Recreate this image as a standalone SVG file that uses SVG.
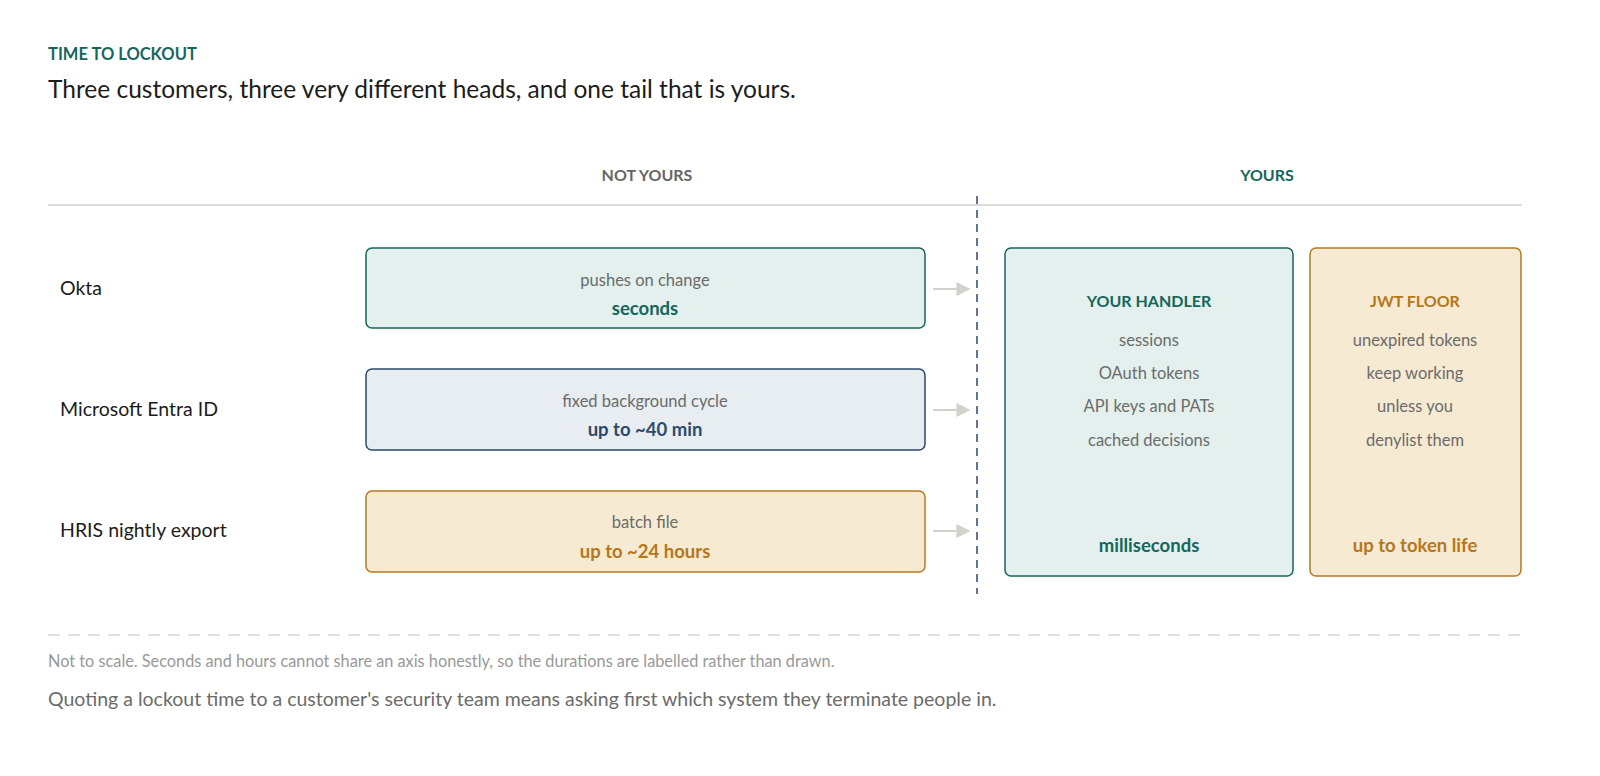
<svg xmlns="http://www.w3.org/2000/svg" width="1600" height="776" viewBox="0 0 1600 776">
<defs>
<style>
text{font-family:Lato,"Open Sans","Liberation Sans",sans-serif}
.lab{font-size:19.5px;fill:#1c1c1c}
.sub{font-size:16.5px;fill:#6b6b6b;text-anchor:middle}
.big{font-size:18.5px;font-weight:bold;text-anchor:middle}
.hd{font-size:16px;font-weight:bold;text-anchor:middle}
.teal{fill:#e3f0ed;stroke:#15665d;stroke-width:1.5}
.blue{fill:#e8edf2;stroke:#2d4a6c;stroke-width:1.5}
.org{fill:#f7ead3;stroke:#b57a22;stroke-width:1.5}
.arr{stroke:#d2d2cc;stroke-width:2;fill:none;marker-end:url(#ah)}
</style>
<marker id="ah" viewBox="0 0 10 10" refX="9" refY="5" markerWidth="14" markerHeight="16" markerUnits="userSpaceOnUse" orient="auto"><path d="M0 0L10 5L0 10z" fill="#d2d2cc"/></marker>
</defs>
<rect width="1600" height="776" fill="#fff"/>
<text x="48" y="60" font-size="16.5" font-weight="bold" fill="#15665d">TIME TO LOCKOUT</text>
<text x="48" y="98" font-size="24.5" fill="#1c1c1c">Three customers, three very different heads, and one tail that is yours.</text>
<text x="647" y="181" class="hd" fill="#666">NOT YOURS</text>
<text x="1267" y="181" class="hd" fill="#15665d">YOURS</text>
<line x1="48" y1="205" x2="1522" y2="205" stroke="#dcdcdc" stroke-width="2"/>
<g id="connectors">
<line x1="977" y1="196" x2="977" y2="594" stroke="#2d4a6c" stroke-width="1.5" stroke-dasharray="8 6"/>
<line class="arr" x1="933" y1="289" x2="969" y2="289"/>
<line class="arr" x1="933" y1="410" x2="969" y2="410"/>
<line class="arr" x1="933" y1="531" x2="969" y2="531"/>
</g>
<g id="okta">
<text x="60" y="295" class="lab">Okta</text>
<rect class="teal" x="366" y="248" width="559" height="80" rx="6"/>
<text x="645" y="286" class="sub">pushes on change</text>
<text x="645" y="315" class="big" fill="#15665d">seconds</text>
</g>
<g id="entra">
<text x="60" y="416" class="lab">Microsoft Entra ID</text>
<rect class="blue" x="366" y="369" width="559" height="81" rx="6"/>
<text x="645" y="407" class="sub">fixed background cycle</text>
<text x="645" y="436" class="big" fill="#2d4a6c">up to ~40 min</text>
</g>
<g id="hris">
<text x="60" y="537" class="lab">HRIS nightly export</text>
<rect class="org" x="366" y="491" width="559" height="81" rx="6"/>
<text x="645" y="528" class="sub">batch file</text>
<text x="645" y="558" class="big" fill="#b5771a">up to ~24 hours</text>
</g>
<g id="handler">
<rect class="teal" x="1005" y="248" width="288" height="328" rx="6"/>
<text x="1149" y="307" class="hd" fill="#15665d">YOUR HANDLER</text>
<text x="1149" y="346" class="sub">sessions</text>
<text x="1149" y="379" class="sub">OAuth tokens</text>
<text x="1149" y="412" class="sub">API keys and PATs</text>
<text x="1149" y="446" class="sub">cached decisions</text>
<text x="1149" y="552" class="big" fill="#15665d">milliseconds</text>
</g>
<g id="jwt">
<rect class="org" x="1310" y="248" width="211" height="328" rx="6"/>
<text x="1415" y="307" class="hd" fill="#b5771a">JWT FLOOR</text>
<text x="1415" y="346" class="sub">unexpired tokens</text>
<text x="1415" y="379" class="sub">keep working</text>
<text x="1415" y="412" class="sub">unless you</text>
<text x="1415" y="446" class="sub">denylist them</text>
<text x="1415" y="552" class="big" fill="#b5771a">up to token life</text>
</g>
<line x1="48" y1="635" x2="1522" y2="635" stroke="#e0e0dc" stroke-width="2" stroke-dasharray="12 8"/>
<text x="48" y="667" font-size="16.3" fill="#999">Not to scale. Seconds and hours cannot share an axis honestly, so the durations are labelled rather than drawn.</text>
<text x="48" y="706" font-size="19.5" fill="#6b6b6b">Quoting a lockout time to a customer's security team means asking first which system they terminate people in.</text>
</svg>
